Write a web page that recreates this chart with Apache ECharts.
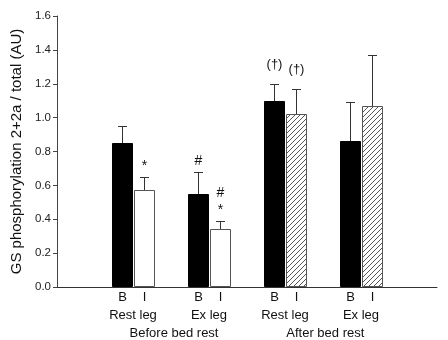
<!DOCTYPE html>
<html>
<head>
<meta charset="utf-8">
<script src="https://cdn.jsdelivr.net/npm/echarts@6/dist/echarts.min.js"></script>
<style>
  html, body { margin: 0; padding: 0; background: #fff; }
  #chart { width: 448px; height: 340px; }
</style>
</head>
<body>
<div id="chart"></div>
<script>
// GS phosphorylation (2+2a / total), basal (B) and insulin (I), mean with upper SEM
const groups = ['Rest leg', 'Ex leg', 'Rest leg', 'Ex leg'];
const periods = ['Before bed rest', 'After bed rest'];
const conditions = ['B', 'I'];
const basalMean = [0.85, 0.55, 1.10, 0.86];
const basalSem = [0.10, 0.13, 0.10, 0.23];
const insulinMean = [0.57, 0.34, 1.02, 1.07];
const insulinSem = [0.08, 0.05, 0.15, 0.30];
const basalMarks = ['', '#', '(†)', ''];
const insulinMarks = ['*', '#\n*', '(†)', ''];
const yTickValues = [0, 0.2, 0.4, 0.6, 0.8, 1.0, 1.2, 1.4, 1.6];

// layout along the x value axis (one unit per leg group)
const groupPos = [1, 2, 3, 4];
const periodPos = [1.54, 3.53];
const BAR_OFFSET = 0.15;
const BAR_WIDTH = 0.28;
const FONT = '"Liberation Sans", Arial, Helvetica, sans-serif';

// diagonal hatch used for insulin bars after bed rest
function makeHatch() {
  const c = document.createElement('canvas');
  const n = 5;
  c.width = n; c.height = n;
  const ctx = c.getContext('2d');
  ctx.fillStyle = '#fff';
  ctx.fillRect(0, 0, n, n);
  ctx.fillStyle = '#555';
  for (let i = 0; i < n; i++) ctx.fillRect(i, n - 1 - i, 1, 1);
  return { image: c, repeat: 'repeat' };
}
const hatch = makeHatch();

const barData = [];
for (let g = 0; g < groups.length; g++) {
  for (let k = 0; k < conditions.length; k++) barData.push([g, k]);
}

function renderBar(params, api) {
  const g = api.value(0);
  const k = api.value(1);
  const mean = k === 0 ? basalMean[g] : insulinMean[g];
  const sem = k === 0 ? basalSem[g] : insulinSem[g];
  const mark = k === 0 ? basalMarks[g] : insulinMarks[g];
  const xVal = groupPos[g] + (k === 0 ? -BAR_OFFSET : BAR_OFFSET);
  const cx = Math.round(api.coord([xVal, 0])[0]);
  const y0 = Math.round(api.coord([0, 0])[1]);
  const yTop = Math.round(api.coord([0, mean])[1]);
  const yErr = Math.round(api.coord([0, mean + sem])[1]);
  const w = Math.round(api.size([BAR_WIDTH, 0])[0]);
  const left = cx - Math.floor(w / 2);

  let fill, stroke;
  if (k === 0) { fill = '#000'; stroke = '#000'; }
  else if (g < 2) { fill = '#fff'; stroke = '#555'; }
  else { fill = hatch; stroke = '#555'; }

  const children = [
    { type: 'line', shape: { x1: cx + 0.5, y1: yTop, x2: cx + 0.5, y2: yErr },
      style: { stroke: '#333', lineWidth: 1 } },
    { type: 'line', shape: { x1: cx - 4, y1: yErr + 0.5, x2: cx + 5, y2: yErr + 0.5 },
      style: { stroke: '#333', lineWidth: 1 } },
    { type: 'rect', shape: { x: left + 0.5, y: yTop + 0.5, width: w - 1, height: y0 - yTop - 1 },
      style: { fill: fill, stroke: stroke, lineWidth: 1 } },
    { type: 'text', style: { text: conditions[k], x: cx + 0.5, y: y0 + 10,
      align: 'center', verticalAlign: 'middle', font: '13px ' + FONT, fill: '#111' } }
  ];

  if (mark) {
    const lines = mark.split('\n').reverse();
    const dagger = mark.indexOf('(') >= 0;
    const gap = dagger ? 20 : 11;
    const size = dagger ? 13 : 14;
    lines.forEach(function (t, i) {
      children.push({ type: 'text', style: { text: t, x: cx + 0.5, y: yErr - gap - i * 17,
        align: 'center', verticalAlign: 'middle', font: size + 'px ' + FONT, fill: '#111' } });
    });
  }
  return { type: 'group', children: children };
}

function nearestIndex(list, v) {
  let best = 0;
  for (let i = 1; i < list.length; i++) {
    if (Math.abs(list[i] - v) < Math.abs(list[best] - v)) best = i;
  }
  return best;
}

const chart = echarts.init(document.getElementById('chart'), null, { renderer: 'canvas' });
chart.setOption({
  animation: false,
  backgroundColor: '#fff',
  grid: { left: 57, right: 11, top: 16, bottom: 52, containLabel: false },
  xAxis: [
    { type: 'value', min: 0, max: 5, position: 'bottom',
      axisLine: { show: true, lineStyle: { color: '#333', width: 1 } },
      axisTick: { show: false }, axisLabel: { show: false }, splitLine: { show: false } },
    { type: 'value', min: 0, max: 5, position: 'bottom',
      axisLine: { show: false }, axisTick: { show: false }, splitLine: { show: false },
      axisLabel: { show: true, customValues: groupPos, margin: 22, fontSize: 13,
        fontFamily: FONT, color: '#111',
        formatter: function (v) { return groups[nearestIndex(groupPos, v)]; } } },
    { type: 'value', min: 0, max: 5, position: 'bottom',
      axisLine: { show: false }, axisTick: { show: false }, splitLine: { show: false },
      axisLabel: { show: true, customValues: periodPos, margin: 40, fontSize: 13,
        fontFamily: FONT, color: '#111',
        formatter: function (v) { return periods[nearestIndex(periodPos, v)]; } } }
  ],
  yAxis: {
    type: 'value', min: yTickValues[0], max: yTickValues[yTickValues.length - 1], interval: 0.2,
    name: 'GS phosphorylation 2+2a / total (AU)', nameLocation: 'middle', nameRotate: 90,
    nameGap: 26, nameTextStyle: { fontSize: 15, fontFamily: FONT, color: '#111' },
    axisLine: { show: true, lineStyle: { color: '#444', width: 1 } },
    axisTick: { show: true, inside: false, length: 4, lineStyle: { color: '#444' } },
    axisLabel: { margin: 6, fontSize: 11.5, fontFamily: FONT, color: '#222',
      formatter: function (v) { return v.toFixed(1); } },
    splitLine: { show: false }
  },
  series: [{
    type: 'custom',
    xAxisIndex: 0, yAxisIndex: 0,
    renderItem: renderBar,
    data: barData,
    clip: false,
    silent: true
  }]
});
</script>
</body>
</html>
